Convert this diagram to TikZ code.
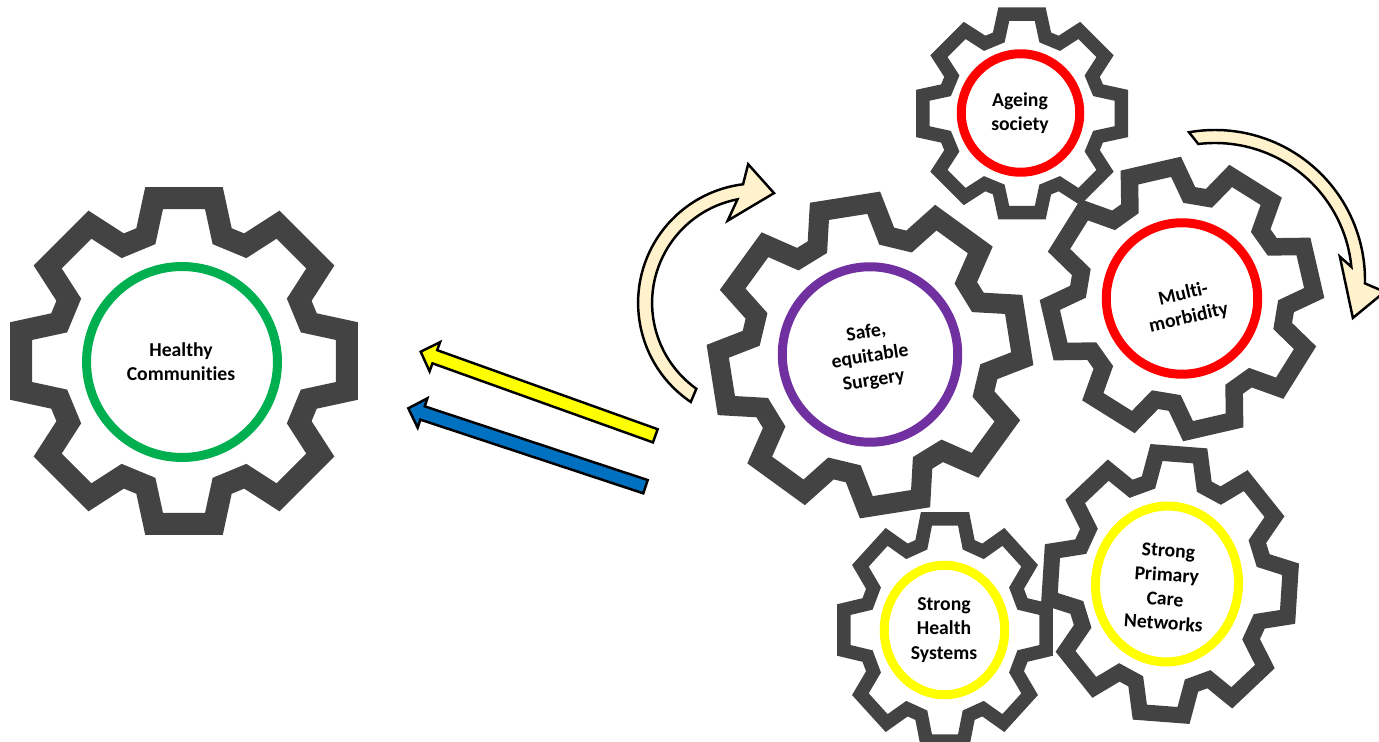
\documentclass[tikz,border=0pt]{standalone}
\usepackage{fontspec}
\setmainfont{Carlito}[RawFeature=-liga]
\usetikzlibrary{calc,shapes.geometric}
\definecolor{geargray}{HTML}{434343}
\definecolor{ringgreen}{HTML}{00B050}
\definecolor{ringpurple}{HTML}{7030A0}
\definecolor{ringred}{HTML}{FF0000}
\definecolor{ringyellow}{HTML}{FFFF00}
\definecolor{arrowblue}{HTML}{0070C0}
\definecolor{cream}{HTML}{FFF2CC}
% #1 center, #2 outer radius (px), #3 rotation, #4 yscale, #5 line width
\newcommand\gearshape[5]{%
  \draw[gearline, line width=#5] [shift={#1}, yscale=#4, rotate=#3, scale=#2]
    (-17:0.75) -- (-10.4:0.952) -- (10.4:0.952) -- (17:0.75)
    \foreach \a in {45,90,...,315}{ -- (\a-17:0.75) -- (\a-10.4:0.952) -- (\a+10.4:0.952) -- (\a+17:0.75)} -- cycle;}
% #1 tail, #2 tip, #3 fill
\newcommand\bararrow[3]{%
  \draw[barrow, fill=#3]
    ($(#1)!0.14cm!90:(#2)$) --
    ($(#2)!0.30cm!(#1)!0.14cm!-90:(#1)$) --
    ($(#2)!0.30cm!(#1)!0.31cm!-90:(#1)$) --
    (#2) --
    ($(#2)!0.30cm!(#1)!0.31cm!90:(#1)$) --
    ($(#2)!0.30cm!(#1)!0.14cm!90:(#1)$) --
    ($(#1)!0.14cm!-90:(#2)$) -- cycle;}
\begin{document}
\begin{tikzpicture}[x=0.02cm,y=0.02cm,
  gearline/.style={draw=geargray, line join=miter, miter limit=10},
  ring/.style={circle, draw=#1, line width=0.18cm, inner sep=0pt},
  oring/.style={ellipse, draw=#1, line width=0.18cm, inner sep=0pt},
  lbl/.style={font=\fontsize{11.2}{13.8}\selectfont\bfseries, align=center, text=black, inner sep=0pt},
  barrow/.style={draw=black, line width=1.4pt, line join=miter},
  curvarrow/.style={draw=black, fill=cream, line width=1.4pt, line join=miter}]
\useasboundingbox (0,0) rectangle (1379,-742);

% gears
\gearshape{(184,-361)}{174}{0}{1}{0.44cm}
\gearshape{(870,-355)}{160}{9}{1}{0.40cm}
\gearshape{(1022,-113.5)}{106}{0}{1}{0.27cm}
\gearshape{(1182,-299)}{139}{13}{1}{0.35cm}
\gearshape{(945,-630)}{108}{0}{1.1}{0.27cm}
\gearshape{(1170,-584)}{127.5}{-4}{1.09}{0.32cm}

% rings
\node[ring=ringgreen, minimum size=3.82cm] (r1) at (182,-362) {};
\node[ring=ringpurple, minimum size=3.51cm] (r2) at (870,-354.5) {};
\node[ring=ringred, minimum size=2.37cm] (r3) at (1020.5,-113) {};
\node[ring=ringred, minimum size=3.03cm] (r4) at (1182,-298.5) {};
\node[oring=ringyellow, minimum width=2.41cm, minimum height=2.59cm] (r5) at (944.5,-630) {};
\node[oring=ringyellow, minimum width=2.86cm, minimum height=3.12cm, rotate=-4] (r6) at (1167,-584) {};

% labels
\node[lbl] (t1) at (181,-362) {Healthy\\Communities};
\node[lbl, rotate=9] (t2) at (870,-357) {Safe,\\equitable\\Surgery};
\node[lbl] (t3) at (1020,-113) {Ageing\\society};
\node[lbl, rotate=13] (t4) at (1186,-306) {Multi-\\morbidity};
\node[lbl] (t5) at (944,-630) {Strong\\Health\\Systems};
\node[lbl, rotate=-4] (t6) at (1166,-587) {Strong\\Primary\\Care\\Networks};

% straight arrows
\coordinate (yt) at (655.3,-435.8);
\coordinate (yh) at (420.7,-351.7);
\coordinate (bt) at (645.5,-486.7);
\coordinate (bh) at (408.3,-408.3);
\bararrow{yt}{yh}{ringyellow}
\bararrow{bt}{bh}{arrowblue}

% curved arrows
\coordinate (lac) at (757.6,-302.9);
\draw[curvarrow] ([shift={(236:119.5)}]lac) arc[start angle=236, end angle=97, radius=119.5]
  -- ([shift={(93.9:139)}]lac) -- ([shift={(81.5:111)}]lac) -- ([shift={(110:87.5)}]lac)
  -- ([shift={(101:105.5)}]lac) arc[start angle=101, end angle=234.5, radius=105.5] -- cycle;
\coordinate (rac) at (1215,-280);
\draw[curvarrow] ([shift={(100:150)}]rac) arc[start angle=100, end angle=-1.3, radius=150]
  -- ([shift={(-4:170)}]rac) -- ([shift={(-15.4:143)}]rac) -- ([shift={(10.6:127)}]rac)
  -- ([shift={(5.5:137)}]rac) arc[start angle=5.5, end angle=97, radius=137] -- cycle;
\end{tikzpicture}
\end{document}
